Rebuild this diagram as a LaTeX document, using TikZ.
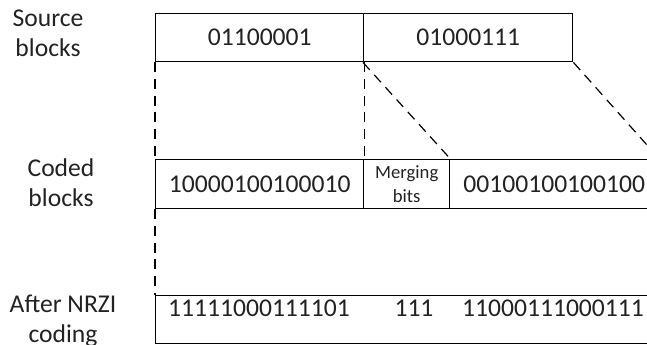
\documentclass[tikz,border=0pt]{standalone}
\usepackage{fontspec}
\setmainfont{Carlito}
\definecolor{txt}{HTML}{222222}
\begin{document}
\begin{tikzpicture}[x=0.75pt,y=-0.75pt,
  blk/.style={draw=black, line width=1.1pt, inner sep=0pt, anchor=north west, text=txt,
    font=\fontsize{19.2}{22.5}\selectfont},
  lbl/.style={inner sep=0pt, align=center, text=txt, font=\fontsize{19.2}{22.5}\selectfont},
  num/.style={inner sep=0pt, anchor=base, text=txt, font=\fontsize{19.2}{22.5}\selectfont},
  dsh/.style={draw=black, line width=0.9pt, dash pattern=on 7.5pt off 5pt}]
\useasboundingbox (0,0) rectangle (647,345);
\clip (0,0) rectangle (647,345);
% source blocks
\node[blk, minimum width=156pt, minimum height=36pt] (s1) at (155,13) {01100001};
\node[blk, minimum width=156.75pt, minimum height=36pt] (s2) at (363,13) {01000111};
% coded blocks
\node[blk, minimum width=156pt, minimum height=36.75pt] (c1) at (155,159) {10000100100010};
\node[blk, minimum width=64.5pt, minimum height=36.75pt, align=center,
      font=\fontsize{14}{18}\selectfont] (c2) at (363,159) {Merging\\bits};
\node[blk, minimum width=156.75pt, minimum height=36.75pt] (c3) at (449,159) {00100100100100};
% NRZI
\node[blk, minimum width=377.25pt, minimum height=36pt] (n) at (155,295) {};
\node[num] (t1) at (259,317) {11111000111101};
\node[num] (t2) at (414,317) {111};
\node[num] (t3) at (553,317) {11000111000111};
% labels
\node[lbl] (l1) at (48,33.5) {Source\\blocks};
\node[lbl] (l2) at (61,183) {Coded\\blocks};
\node[lbl] (l3) at (63,320.5) {After NRZI\\coding};
% dashed connectors
\draw[dsh] (s1.south west) -- (c1.north west);
\draw[dsh] (s1.south east) -- (c1.north east);
\draw[dsh] (s2.south west) -- (c2.north east);
\draw[dsh] (s2.south east) -- (c3.north east);
\draw[dsh] (c1.south west) -- (n.north west);
\end{tikzpicture}
\end{document}
